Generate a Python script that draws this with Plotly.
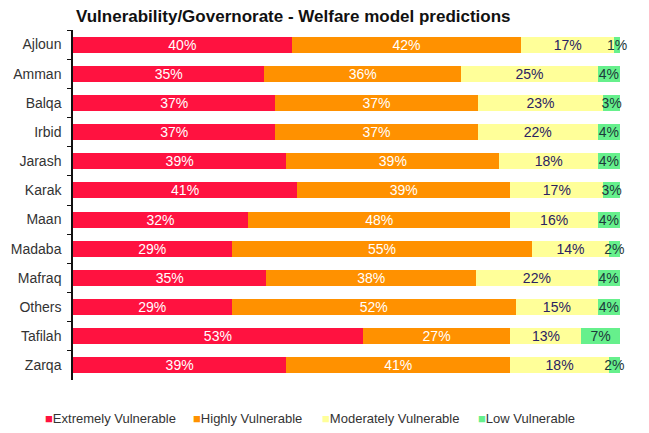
import plotly.graph_objects as go

categories = ["Ajloun", "Amman", "Balqa", "Irbid", "Jarash", "Karak", "Maan",
              "Madaba", "Mafraq", "Others", "Tafilah", "Zarqa"]
extremely = [40, 35, 37, 37, 39, 41, 32, 29, 35, 29, 53, 39]
highly = [42, 36, 37, 37, 39, 39, 48, 55, 38, 52, 27, 41]
moderately = [17, 25, 23, 22, 18, 17, 16, 14, 22, 15, 13, 18]
low = [1, 4, 3, 4, 4, 3, 4, 2, 4, 4, 7, 2]

series_names = ["Extremely Vulnerable", "Highly Vulnerable",
                "Moderately Vulnerable", "Low Vulnerable"]
series_values = [extremely, highly, moderately, low]
colors = ["#FF1240", "#FF9100", "#FFFF99", "#66F08C"]
text_colors = ["white", "white", "#2a2262", "#1d3a3a"]

FONT = "Liberation Sans, Arial, sans-serif"
W, H = 641, 425          # page has an 8px body margin
L, R, T, B = 65, 29, 22, 53

fig = go.Figure()
for name, vals, color, tcol in zip(series_names, series_values, colors, text_colors):
    fig.add_trace(go.Bar(
        y=categories, x=vals, name=name, orientation="h",
        marker=dict(color=color, line=dict(width=0)),
        text=[f"{v}%" for v in vals], textposition="inside",
        insidetextanchor="middle", constraintext="none", textangle=0,
        textfont=dict(color=tcol, size=14, family=FONT),
        cliponaxis=False, showlegend=False,
    ))

# custom compact legend (below the plot)
plot_w = W - L - R
plot_h = H - T - B
legend_px = [43, 191, 320, 476]     # page x of each legend item start
legend_y_page = 418
annotations = []
for name, color, px in zip(series_names, colors, legend_px):
    annotations.append(dict(
        x=(px - 8 - L) / plot_w, xref="paper", xanchor="left",
        y=(T + plot_h - (legend_y_page - 8)) / plot_h, yref="paper", yanchor="middle",
        text=f"<span style='color:{color}'>■</span>{name}",
        showarrow=False, font=dict(size=13, color="#333", family=FONT),
    ))

fig.update_layout(
    barmode="stack", barnorm="percent", bargap=0.45,
    width=W, height=H,
    margin=dict(l=L, r=R, t=T, b=B, autoexpand=False),
    plot_bgcolor="white", paper_bgcolor="white",
    font=dict(family=FONT, size=13, color="#222"),
    uniformtext=dict(minsize=14, mode="show"),
    title=dict(text="<b>Vulnerability/Governorate - Welfare model predictions</b>",
               x=(76 - 8) / W, xanchor="left", xref="container",
               y=1 - (16 - 8) / H, yanchor="middle", yref="container",
               font=dict(size=17, color="#111", family=FONT)),
    annotations=annotations,
    showlegend=False,
)
fig.update_xaxes(range=[0, 100.05], showticklabels=False, showgrid=False,
                 zeroline=False, showline=False, ticks="", automargin=False)
fig.update_yaxes(autorange="reversed", showline=True, linecolor="#111",
                 linewidth=1.5, ticks="outside", tickson="boundaries",
                 ticklen=4, tickcolor="#111", showgrid=False, automargin=False,
                 tickfont=dict(size=14, color="#333", family=FONT),
                 ticklabelstandoff=7)

fig.write_html("out.html")
